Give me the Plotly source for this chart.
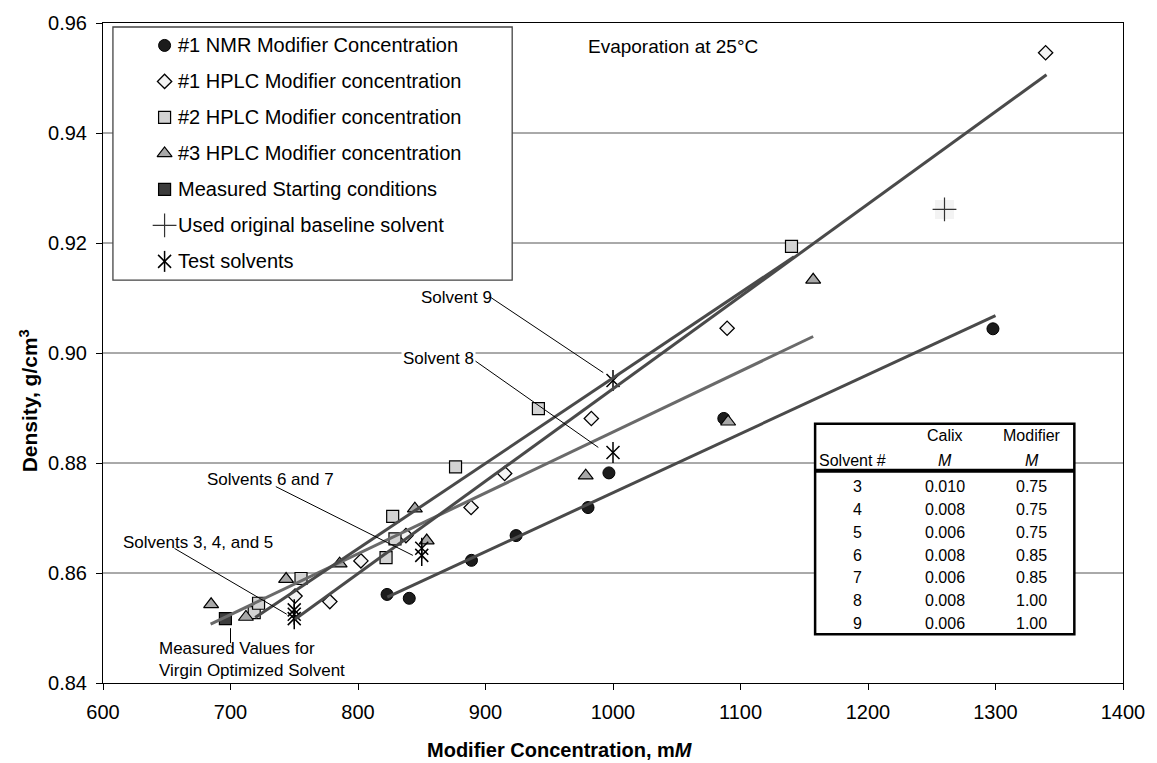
import plotly.graph_objects as go

# ---- measured data -------------------------------------------------------
nmr1_x = [822.8, 840.2, 889.0, 924.0, 980.4, 996.8, 1086.9, 1298.0]
nmr1_y = [0.8561, 0.8554, 0.8623, 0.8668, 0.8719, 0.8782, 0.8881, 0.9044]

hplc1_x = [750.6, 777.9, 802.3, 837.6, 888.7, 915.0, 983.0, 1089.5, 1339.3]
hplc1_y = [0.8558, 0.8548, 0.8622, 0.8668, 0.8719, 0.8781, 0.8881, 0.9045, 0.9546]

hplc2_x = [718.6, 722.0, 755.3, 822.0, 827.2, 829.0, 876.5, 941.5, 1140.0]
hplc2_y = [0.8528, 0.8545, 0.8590, 0.8628, 0.8703, 0.8662, 0.8793, 0.8899, 0.9194]

hplc3_x = [684.8, 712.1, 743.6, 785.6, 844.6, 853.9, 978.6, 1090.3, 1157.0]
hplc3_y = [0.8543, 0.8520, 0.8589, 0.8617, 0.8717, 0.8659, 0.8777, 0.8875, 0.9133]

start_x = [696.0]
start_y = [0.8517]

baseline_x = [1260.0]
baseline_y = [0.9261]

# linear trendlines (end points)
trend_nmr1_x, trend_nmr1_y = [823.0, 1300.0], [0.8556, 0.9068]
trend_hplc1_x, trend_hplc1_y = [750.6, 1340.0], [0.8516, 0.9506]
trend_hplc2_x, trend_hplc2_y = [719.4, 1142.0], [0.8519, 0.9175]
trend_hplc3_x, trend_hplc3_y = [684.4, 1157.0], [0.8507, 0.9030]

# test solvent table
solvent_ids = [3, 4, 5, 6, 7, 8, 9]
calix_M = [0.010, 0.008, 0.006, 0.008, 0.006, 0.008, 0.006]
modifier_M = [0.75, 0.75, 0.75, 0.85, 0.85, 1.00, 1.00]
test_density = [0.8533, 0.8525, 0.8517, 0.8645, 0.8632, 0.8819, 0.8950]

x_ticks = [600, 700, 800, 900, 1000, 1100, 1200, 1300, 1400]
y_ticks = [0.84, 0.86, 0.88, 0.90, 0.92, 0.94, 0.96]

legend_labels = [
    "#1 NMR Modifier Concentration",
    "#1 HPLC Modifier concentration",
    "#2 HPLC Modifier concentration",
    "#3 HPLC Modifier concentration",
    "Measured Starting conditions",
    "Used original baseline solvent",
    "Test solvents",
]

# ---- page geometry ---------------------------------------------------------
W, H = 1157, 763
L, R, T, B = 103, 1130, 21, 683
FONT = "Liberation Sans, Arial, sans-serif"


def fx(p):
    """pixel column -> paper x"""
    return (p - L) / (R - L)


def fy(p):
    """pixel row -> paper y"""
    return (B - p) / (B - T)


fig = go.Figure()

# ---- styles ----------------------------------------------------------------
sty = {
    "nmr1": dict(symbol="circle", size=12, color="#1c1c1c", line=dict(color="#000000", width=1)),
    "hplc1": dict(symbol="diamond", size=11, color="#f4f4f4", line=dict(color="#000000", width=1.3)),
    "hplc2": dict(symbol="square", size=12, color="#d3d3d3", line=dict(color="#000000", width=1.2)),
    "hplc3": dict(symbol="triangle-up", size=13, color="#a8a8a8", line=dict(color="#000000", width=1.2)),
    "start": dict(symbol="square", size=12, color="#3c3c3c", line=dict(color="#000000", width=1.2)),
    "base": dict(symbol="cross-thin-open", size=17, color="#333333", line=dict(color="#333333", width=1.2)),
    "star_x": dict(symbol="x-thin-open", size=13, color="#000000", line=dict(color="#000000", width=1.5)),
    "star_v": dict(symbol="line-ns-open", size=15, color="#000000", line=dict(color="#000000", width=1.5)),
}


def pts(x, y, key, name):
    fig.add_trace(go.Scatter(x=x, y=y, mode="markers", name=name,
                             marker=sty[key], showlegend=False, hoverinfo="x+y"))


pts(nmr1_x, nmr1_y, "nmr1", legend_labels[0])
pts(hplc1_x, hplc1_y, "hplc1", legend_labels[1])
pts(hplc2_x, hplc2_y, "hplc2", legend_labels[2])
pts(hplc3_x, hplc3_y, "hplc3", legend_labels[3])
pts(start_x, start_y, "start", legend_labels[4])

# faint backing square behind the baseline cross
fig.add_trace(go.Scatter(x=baseline_x, y=baseline_y, mode="markers", showlegend=False,
                         hoverinfo="skip",
                         marker=dict(symbol="square", size=19, color="#f3f3f3")))
pts(baseline_x, baseline_y, "base", legend_labels[5])

test_x = [m * 1000 for m in modifier_M]
pts(test_x, test_density, "star_x", legend_labels[6])
pts(test_x, test_density, "star_v", legend_labels[6])

# trendlines on top of the markers
for tx, ty, col in [
    (trend_hplc3_x, trend_hplc3_y, "#6a6a6a"),
    (trend_nmr1_x, trend_nmr1_y, "#4a4a4a"),
    (trend_hplc1_x, trend_hplc1_y, "#4a4a4a"),
    (trend_hplc2_x, trend_hplc2_y, "#4a4a4a"),
]:
    fig.add_trace(go.Scatter(x=tx, y=ty, mode="lines", showlegend=False, hoverinfo="skip",
                             line=dict(color=col, width=3)))

# ---- legend (drawn on an overlay axis in paper-like units) ---------------
leg_keys = ["nmr1", "hplc1", "hplc2", "hplc3", "start", "base", "star_x"]
leg_sym_px = 165
leg_text_px = 177
leg_row0, leg_step = 43.5, 36.1
for i, key in enumerate(leg_keys):
    yy = fy(leg_row0 + i * leg_step)
    fig.add_trace(go.Scatter(x=[fx(leg_sym_px)], y=[yy], mode="markers", marker=sty[key],
                             xaxis="x2", yaxis="y2", showlegend=False, hoverinfo="skip"))
    if key == "star_x":
        fig.add_trace(go.Scatter(x=[fx(leg_sym_px)], y=[yy], mode="markers", marker=sty["star_v"],
                                 xaxis="x2", yaxis="y2", showlegend=False, hoverinfo="skip"))

shapes = []
annotations = []

# gridlines
for yv in y_ticks[1:-1]:
    shapes.append(dict(type="line", xref="paper", yref="y", x0=0, x1=1, y0=yv, y1=yv,
                       line=dict(color="#555555", width=1), layer="below"))

# legend box
shapes.append(dict(type="rect", xref="paper", yref="paper",
                   x0=fx(113), x1=fx(515), y0=fy(279), y1=fy(25),
                   fillcolor="white", line=dict(color="#444444", width=1.3), layer="below"))
for i, lab in enumerate(legend_labels):
    annotations.append(dict(xref="paper", yref="paper", x=fx(leg_text_px), y=fy(leg_row0 + i * leg_step),
                            text=lab, showarrow=False, xanchor="left", yanchor="middle",
                            font=dict(family=FONT, size=20, color="#000000")))

# ---- table of test solvents ---------------------------------------------
tb_l, tb_r, tb_t, tb_b, tb_hd = 820, 1081, 423, 634, 470
shapes.append(dict(type="rect", xref="paper", yref="paper",
                   x0=fx(tb_l), x1=fx(tb_r), y0=fy(tb_b), y1=fy(tb_t),
                   fillcolor="white", line=dict(color="#000000", width=2.5), layer="below"))
shapes.append(dict(type="line", xref="paper", yref="paper",
                   x0=fx(tb_l), x1=fx(tb_r), y0=fy(tb_hd), y1=fy(tb_hd),
                   line=dict(color="#000000", width=4), layer="below"))
col_c = [859, 951, 1038]
tfont = dict(family=FONT, size=16, color="#000000")
tfont_i = dict(family=FONT, size=16, color="#000000", style="italic")
for txt, cx, cy, f in [("Calix", col_c[1], 435, tfont), ("Modifier", col_c[2], 435, tfont),
                       ("Solvent #", 858, 460, tfont), ("M", col_c[1], 460, tfont_i),
                       ("M", col_c[2], 460, tfont_i)]:
    annotations.append(dict(xref="paper", yref="paper", x=fx(cx), y=fy(cy), text=txt,
                            showarrow=False, xanchor="center", yanchor="middle", font=f))
row0, row_step = 486, 22.9
for i, (sid, cm, mm) in enumerate(zip(solvent_ids, calix_M, modifier_M)):
    yy = fy(row0 + i * row_step)
    for txt, cx in [(str(sid), 863), (f"{cm:.3f}", col_c[1]), (f"{mm:.2f}", col_c[2])]:
        annotations.append(dict(xref="paper", yref="paper", x=fx(cx), y=yy, text=txt,
                                showarrow=False, xanchor="center", yanchor="middle", font=tfont))

# ---- callouts --------------------------------------------------------------
cfont = dict(family=FONT, size=17, color="#000000")
callouts = [
    ("Solvent 9", 421, 296, (493, 296), (606.7, 371.7), False),
    ("Solvent 8", 403, 358, (475, 358), (601.7, 446.7), True),
    ("Solvents 6 and 7", 206, 479, (277, 486), (415, 555), False),
    ("Solvents 3, 4, and 5", 121, 542, (175, 548), (288, 614), False),
]
for txt, lx, ly, p0, p1, bg in callouts:
    ann = dict(xref="paper", yref="paper", x=fx(lx), y=fy(ly), text=txt,
               showarrow=False, xanchor="left", yanchor="middle", font=cfont, borderpad=1)
    if bg:
        ann["bgcolor"] = "white"
    annotations.append(ann)
    shapes.append(dict(type="line", xref="paper", yref="paper",
                       x0=fx(p0[0]), y0=fy(p0[1]), x1=fx(p1[0]), y1=fy(p1[1]),
                       line=dict(color="#000000", width=1)))

annotations.append(dict(xref="paper", yref="paper", x=fx(157), y=fy(659),
                        text="Measured Values for<br>Virgin Optimized Solvent",
                        showarrow=False, xanchor="left", yanchor="middle", align="left", font=cfont))
shapes.append(dict(type="line", xref="x", yref="paper", x0=700, x1=700, y0=fy(628), y1=fy(643),
                   line=dict(color="#000000", width=1)))

annotations.append(dict(xref="paper", yref="paper", x=fx(589), y=fy(45), text="Evaporation at 25°C",
                        showarrow=False, xanchor="left", yanchor="middle",
                        font=dict(family=FONT, size=19, color="#000000")))

# axis titles
annotations.append(dict(xref="paper", yref="paper", x=fx(563), y=fy(750),
                        text="Modifier Concentration, m<i>M</i>",
                        showarrow=False, xanchor="center", yanchor="middle",
                        font=dict(family=FONT, size=20, color="#000000", weight="bold")))
annotations.append(dict(xref="paper", yref="paper", x=fx(28), y=fy(400),
                        text="Density, g/cm<sup>3</sup>", textangle=-90,
                        showarrow=False, xanchor="center", yanchor="middle",
                        font=dict(family=FONT, size=21, color="#000000", weight="bold")))

fig.update_layout(
    width=W, height=H,
    margin=dict(l=L, r=W - R, t=T, b=H - B),
    paper_bgcolor="white", plot_bgcolor="white",
    showlegend=False,
    font=dict(family=FONT, size=20, color="#000000"),
    shapes=shapes, annotations=annotations,
    xaxis=dict(range=[600, 1400], tickvals=x_ticks, showgrid=False, zeroline=False,
               showline=True, mirror=True, linecolor="#000000", linewidth=1,
               ticks="outside", ticklen=6, tickcolor="#000000", ticklabelstandoff=5,
               tickfont=dict(family=FONT, size=20)),
    yaxis=dict(range=[0.84, 0.96], tickvals=y_ticks, tickformat=".2f", showgrid=False,
               zeroline=False, showline=True, mirror=True, linecolor="#000000", linewidth=1,
               ticks="outside", ticklen=6, tickcolor="#000000", ticklabelstandoff=5,
               tickfont=dict(family=FONT, size=20)),
    xaxis2=dict(range=[0, 1], overlaying="x", visible=False, fixedrange=True),
    yaxis2=dict(range=[0, 1], overlaying="y", visible=False, fixedrange=True),
)

fig.write_html("out.html")
